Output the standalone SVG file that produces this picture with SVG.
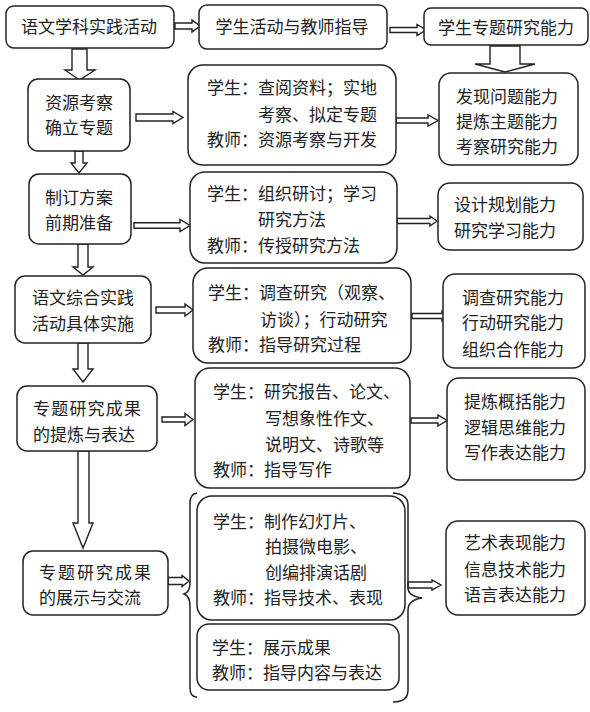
<svg xmlns="http://www.w3.org/2000/svg" width="590" height="712" viewBox="0 0 590 712">
<style>
rect.n{fill:#fff;stroke:#222;stroke-width:1.5}
text{font-family:"Noto Sans CJK SC","Noto Sans",sans-serif;font-size:17px;fill:#222}
.m{text-anchor:middle}
.a{fill:#fff;stroke:#222;stroke-width:1.4;stroke-linejoin:miter}
.b{fill:none;stroke:#222;stroke-width:1.5}
</style>
<rect width="590" height="712" fill="#fff"/>
<g id="connectors">
<path class="a" d="M175,23 L192,23 L192,20 L200,26 L192,32 L192,29 L175,29 Z"/>
<path class="a" d="M390,27.5 L417,27.5 L417,24.5 L426,30 L417,35.5 L417,32.5 L390,32.5 Z"/>
<path class="a" d="M490,46 L520,46 L520,64 L535,64 L505,72 L475,64 L490,64 Z"/>
<path class="a" d="M72,49 L87,49 L87,70 L95,70 L79.5,80 L65,70 L72,70 Z"/>
<path class="a" d="M136,114 L173,114 L173,111.5 L183,117.5 L173,123.5 L173,121 L136,121 Z"/>
<path class="a" d="M396,118 L428,118 L428,115 L438,120.5 L428,126 L428,123 L396,123 Z"/>
<path class="a" d="M75,151 L83,151 L83,163 L87,163 L79,173 L71,163 L75,163 Z"/>
<path class="a" d="M134,222.7 L180,222.7 L180,219.5 L190,225.5 L180,231.5 L180,228.3 L134,228.3 Z"/>
<path class="a" d="M397,218.5 L430,218.5 L430,216 L437,221 L430,226 L430,223.5 L397,223.5 Z"/>
<path class="a" d="M78,244 L88,244 L88,267 L93,267 L83,275 L73,267 L78,267 Z"/>
<path class="a" d="M156,307 L185,307 L185,304 L193,310 L185,316 L185,313 L156,313 Z"/>
<path class="a" d="M412,313.5 L442,313.5 L442,311 L448,316 L442,321 L442,318.5 L412,318.5 Z"/>
<path class="a" d="M78,343 L88,343 L88,369 L93,369 L83,382 L73,369 L78,369 Z"/>
<path class="a" d="M162,417 L185,417 L185,413.5 L193,419.5 L185,425.5 L185,422 L162,422 Z"/>
<path class="a" d="M411,418 L438,418 L438,415 L447,420.5 L438,426 L438,423 L411,423 Z"/>
<path class="a" d="M78,451 L89,451 L89,523 L93,523 L83,548 L73,523 L78,523 Z"/>
<path class="a" d="M168,577.5 L182,577.5 L182,575.5 L189,581 L182,586.5 L182,584.5 L168,584.5 Z"/>
<path class="a" d="M408,582 L432,582 L432,580 L441,585 L432,590 L432,588 L408,588 Z"/>
<path class="b" d="M197,493 Q190,494 190,503 L190,583 Q190,592 184,594 Q190,596 190,606 L190,688 Q190,697 197,697"/>
<path class="b" d="M393,493 Q408,494 408,505 L408,588 Q408,596 422,598 Q408,600 408,610 L408,690 Q408,702 393,702"/>
</g>
<g id="nodeA"><rect class="n" x="6" y="6" width="168" height="42" rx="8"/><text class="m" x="89" y="33">语文学科实践活动</text></g>
<g id="nodeB"><rect class="n" x="199" y="5" width="188" height="44" rx="8"/><text class="m" x="292" y="33">学生活动与教师指导</text></g>
<g id="nodeC"><rect class="n" x="424" y="8" width="164" height="37" rx="7"/><text class="m" x="506" y="34">学生专题研究能力</text></g>
<g id="nodeD"><rect class="n" x="439" y="73" width="139" height="92" rx="12"/><text class="m" x="507" y="103">发现问题能力</text><text class="m" x="507" y="128">提炼主题能力</text><text class="m" x="507" y="153">考察研究能力</text></g>
<g id="nodeE"><rect class="n" x="28" y="79" width="102" height="72" rx="10"/><text class="m" x="79" y="109">资源考察</text><text class="m" x="79" y="134">确立专题</text></g>
<g id="nodeF"><rect class="n" x="188" y="65" width="208" height="100" rx="15"/><text x="207" y="94">学生：查阅资料；实地</text><text x="258" y="121">考察、拟定专题</text><text x="207" y="146">教师：资源考察与开发</text></g>
<g id="nodeG"><rect class="n" x="29" y="174" width="102" height="70" rx="10"/><text class="m" x="79" y="204">制订方案</text><text class="m" x="79" y="229">前期准备</text></g>
<g id="nodeH"><rect class="n" x="190" y="172" width="207" height="91" rx="15"/><text x="207" y="200">学生：组织研讨；学习</text><text x="258" y="226">研究方法</text><text x="207" y="252">教师：传授研究方法</text></g>
<g id="nodeI"><rect class="n" x="438" y="183" width="145" height="67" rx="12"/><text class="m" x="505" y="211">设计规划能力</text><text class="m" x="505" y="237">研究学习能力</text></g>
<g id="nodeJ"><rect class="n" x="15" y="276" width="136" height="67" rx="10"/><text class="m" x="83" y="304">语文综合实践</text><text class="m" x="83" y="330">活动具体实施</text></g>
<g id="nodeK"><rect class="n" x="193" y="268" width="218" height="95" rx="15"/><text x="208" y="299">学生：调查研究（观察、</text><text x="260" y="326">访谈）；行动研究</text><text x="208" y="351">教师：指导研究过程</text></g>
<g id="nodeL"><rect class="n" x="443" y="274" width="142" height="94" rx="12"/><text class="m" x="513" y="304">调查研究能力</text><text class="m" x="513" y="329">行动研究能力</text><text class="m" x="513" y="356">组织合作能力</text></g>
<g id="nodeM"><rect class="n" x="17" y="386" width="140" height="65" rx="10"/><text x="33" y="415" letter-spacing="1.2">专题研究成果</text><text x="33" y="441">的提炼与表达</text></g>
<g id="nodeN"><rect class="n" x="195" y="368" width="215" height="120" rx="15"/><text x="213" y="398">学生：研究报告、论文、</text><text x="265" y="425">写想象性作文、</text><text x="265" y="451">说明文、诗歌等</text><text x="213" y="476">教师：指导写作</text></g>
<g id="nodeO"><rect class="n" x="447" y="378" width="138" height="102" rx="12"/><text class="m" x="515" y="408">提炼概括能力</text><text class="m" x="515" y="434">逻辑思维能力</text><text class="m" x="515" y="459">写作表达能力</text></g>
<g id="nodeP"><rect class="n" x="23" y="551" width="145" height="64" rx="10"/><text x="39" y="579" letter-spacing="2">专题研究成果</text><text x="39" y="604">的展示与交流</text></g>
<g id="nodeQ"><rect class="n" x="197" y="496" width="208" height="124" rx="15"/><text x="213" y="528">学生：制作幻灯片、</text><text x="265" y="553">拍摄微电影、</text><text x="265" y="579">创编排演话剧</text><text x="213" y="604">教师：指导技术、表现</text></g>
<g id="nodeR"><rect class="n" x="197" y="624" width="202" height="66" rx="12"/><text x="212" y="654">学生：展示成果</text><text x="212" y="679">教师：指导内容与表达</text></g>
<g id="nodeS"><rect class="n" x="446" y="521" width="139" height="94" rx="12"/><text class="m" x="515" y="549">艺术表现能力</text><text class="m" x="515" y="576">信息技术能力</text><text class="m" x="515" y="601">语言表达能力</text></g>
</svg>
